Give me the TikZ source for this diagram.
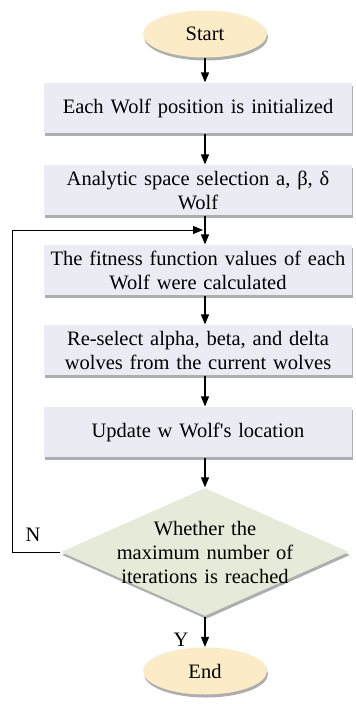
\documentclass[tikz,border=0pt]{standalone}
\usepackage{fontspec}
\setmainfont{Liberation Serif}
\usetikzlibrary{calc,shadows}
\usetikzlibrary{arrows.meta,shapes.geometric}
\tikzset{>={Triangle[length=10pt,width=8pt]}}
\definecolor{termfill}{HTML}{FBEBC6}
\definecolor{boxfill}{HTML}{EBEBF3}
\definecolor{decfill}{HTML}{E5EBD8}
\tikzset{
  shade/.style={drop shadow={shadow xshift=1pt,shadow yshift=-3pt,fill=black!45,opacity=.7}},
  term/.style={ellipse,fill=termfill,shade,minimum width=124pt,minimum height=47pt,inner sep=0pt},
  stepbox/.style={rectangle,fill=boxfill,shade,minimum width=308pt,minimum height=50pt,
    text width=304pt,align=center,inner sep=0pt},
  decide/.style={diamond,fill=decfill,shade,aspect=2.25,text width=190pt,align=center,inner sep=-6.5pt}
}
\newcommand*{\flowfont}{\fontsize{20.5}{24}\selectfont}

\begin{document}
\begin{tikzpicture}[x=1pt,y=-1pt,font=\flowfont,line width=1.2pt]
\useasboundingbox (0,0) rectangle (356,704);
\coordinate (M) at (205,0);
\node[term] (start) at (205,34) {Start};
\node[stepbox] (init) at (198,108) {Each Wolf position is initialized};
\node[stepbox] (sel) at (198,190) {Analytic space selection a, β, δ\\Wolf};
\node[stepbox] (fit) at (198,270) {The fitness function values of each\\Wolf were calculated};
\node[stepbox] (resel) at (198,350) {Re-select alpha, beta, and delta\\wolves from the current wolves};
\node[stepbox] (upd) at (198,432) {Update w Wolf\textquotesingle s location};
\node[decide] (chk) at (205,552) {Whether the\\maximum number of\\iterations is reached};
\node[term] (end) at (205,671) {End};

\draw[->] (start) -- (start.south |- init.north);
\draw[->] (M |- init.south) -- (M |- sel.north);
\draw[->] (M |- sel.south) -- (M |- fit.north);
\draw[->] (M |- fit.south) -- (M |- resel.north);
\draw[->] (M |- resel.south) -- (M |- upd.north);
\draw[->] (M |- upd.south) -- (chk);
\draw[->] (chk) -- (end);

\coordinate (back) at (12,552);
\coordinate (join) at (203,230);
\draw[->,line width=0.9pt] (chk.west) -- (back) -- (back |- join) -- (join);
\node at (33,535) {N};
\node at (181,640) {Y};
\end{tikzpicture}
\end{document}
